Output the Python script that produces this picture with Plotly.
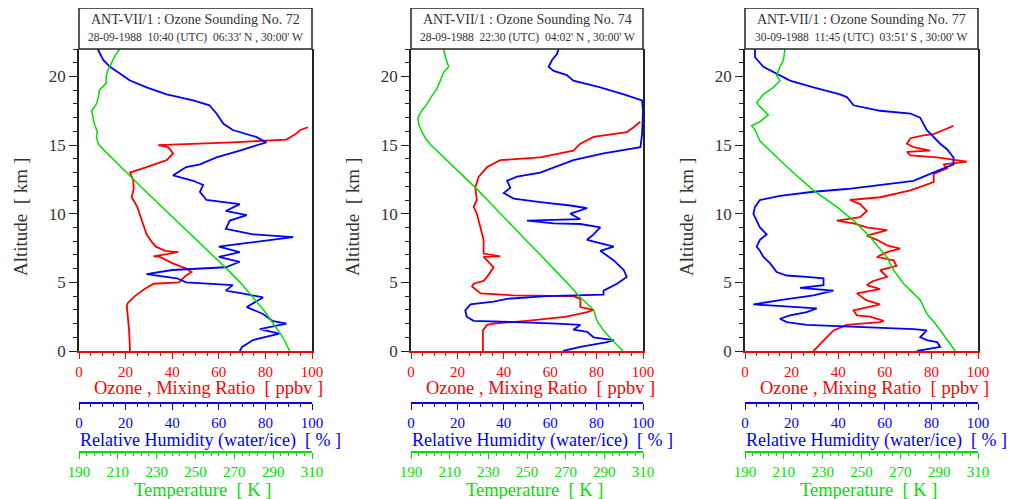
import plotly.graph_objects as go

# ---------------- data ----------------
titles_line1 = ["ANT-VII/1 : Ozone Sounding No. 72",
                "ANT-VII/1 : Ozone Sounding No. 74",
                "ANT-VII/1 : Ozone Sounding No. 77"]
titles_line2 = ["28-09-1988  10:40 (UTC)  06:33' N , 30:00' W",
                "28-09-1988  22:30 (UTC)  04:02' N , 30:00' W",
                "30-09-1988  11:45 (UTC)  03:51' S , 30:00' W"]

# Sounding 72
o3_72_alt = [0, 1.5, 3.3, 3.5, 4.0, 4.5, 4.9, 5.0, 5.2, 5.5, 5.75, 6.0, 6.4, 6.85, 6.9, 7.2, 7.3, 7.6, 8.0, 8.5, 9.0, 9.5, 10.0, 10.5, 11.2, 11.8, 12.4, 13.0, 13.4, 13.9, 14.4, 14.85, 15.0, 15.2, 15.4, 15.8, 16.1, 16.3]
o3_72_val = [21.9, 21.5, 20.5, 21, 24, 28, 32, 43, 44, 46, 48.3, 46, 40, 34.7, 32, 42.6, 37, 33, 31, 29, 28, 27, 26, 25, 22.6, 23.5, 23.3, 21.9, 29, 37.6, 40.4, 38.3, 34, 66, 89, 93, 95, 98.3]
rh_72_alt = [0, 0.3, 0.8, 1.0, 1.26, 1.6, 2.0, 2.2, 2.7, 3.2, 3.9, 4.2, 4.4, 4.8, 4.9, 5.0, 5.3, 5.6, 5.9, 6.1, 6.5, 6.85, 7.2, 7.6, 7.8, 8.3, 8.5, 8.9, 9.5, 9.9, 10.2, 10.7, 11.0, 11.6, 12.1, 12.4, 12.8, 13.4, 13.6, 14.1, 14.6, 15.2, 15.6, 16.1, 16.55, 17.3, 17.9, 18.25, 18.7, 19.2, 19.7, 20.2, 20.7, 21.2, 21.9, 22]
rh_72_val = [69, 70, 74.7, 80, 86, 77.6, 89, 83, 79, 72, 79, 70, 63, 66, 57.6, 46, 42, 29, 40, 63, 69, 60, 69, 60, 69, 91.9, 74.7, 63, 64.7, 72, 63, 69, 54.7, 51.9, 53.3, 49, 40.4, 46, 51.9, 59, 69, 80.4, 76, 66, 62, 59, 56, 49, 37.6, 29, 21.9, 17.6, 13.3, 10.4, 8.3, 8]
t_72_alt = [0, 1, 2, 3, 4, 5, 6, 7, 8, 9, 10, 11, 12, 13, 14, 15, 15.5, 16, 16.5, 17, 17.5, 18, 18.5, 19, 19.5, 20, 20.5, 21, 21.5, 22]
t_72_val = [298.5, 295, 290, 285, 279, 273, 266, 258.5, 251, 244, 236.5, 229, 221.6, 214.4, 207.2, 200.3, 199, 199.4, 198, 197.4, 196.5, 199, 200, 200.5, 204, 204, 205, 206.8, 208.5, 211]

# Sounding 74
o3_74_alt = [0, 1.5, 1.9, 2.0, 2.2, 2.5, 2.84, 3.0, 3.2, 3.8, 4.0, 4.05, 4.2, 4.7, 4.9, 5.1, 5.4, 6.1, 6.6, 6.85, 6.9, 7.1, 8.1, 9.0, 10.0, 10.5, 11.0, 11.9, 12.7, 13.4, 13.9, 14.1, 14.6, 15.1, 15.6, 15.95, 16.3, 16.7]
o3_74_val = [31, 31, 32.8, 35.6, 50, 67, 75.9, 78.7, 73, 73, 70, 44, 30, 26.3, 27, 31.3, 32.8, 35.6, 32.8, 31.3, 38.5, 31.3, 31.3, 29.9, 28.4, 27, 28.4, 27.7, 29.2, 32.8, 38.5, 55.7, 70, 73, 78.7, 93, 96, 98.8]
rh_74_alt = [0, 0.3, 0.65, 0.8, 1.0, 1.4, 1.55, 1.9, 2.0, 2.15, 2.2, 2.5, 2.96, 3.4, 3.6, 3.8, 4.0, 4.1, 4.4, 4.9, 5.4, 5.9, 6.6, 7.3, 7.6, 8.1, 8.5, 9.0, 9.25, 9.3, 9.5, 9.6, 10.0, 10.4, 10.6, 10.85, 11.1, 11.5, 11.9, 12.4, 12.7, 13.0, 13.9, 14.4, 14.85, 15.8, 17.5, 18.25, 18.7, 19.2, 19.7, 20.1, 20.4, 20.7, 21.2, 21.65, 22]
rh_74_val = [65.5, 73, 84.5, 87.4, 78.7, 75.9, 70, 73, 63, 41.4, 27, 24, 23.4, 25.6, 35.6, 41.4, 58.6, 83, 83, 88.8, 93, 91.7, 87.4, 81.6, 87.4, 75.9, 78.7, 81.6, 73, 61.5, 50, 73, 68.7, 75.9, 68.7, 55.7, 44.3, 40, 42.8, 41.4, 45.7, 55.7, 70, 83, 98.9, 99.6, 100, 99.6, 91.7, 81.6, 70, 67.2, 61.5, 59.3, 60.8, 63, 63.6]
t_74_alt = [0, 0.8, 1.5, 2.2, 3.0, 3.9, 5, 6, 7, 8, 9, 10, 11, 11.9, 13, 14, 15, 15.5, 16, 16.5, 17, 17.5, 18, 18.6, 19.1, 19.7, 20.3, 20.7, 21.4, 22]
t_74_val = [299.7, 294, 289.6, 286.2, 284.5, 277.6, 270.5, 264, 257, 250, 243, 236, 229.5, 223.3, 215.3, 208, 200.3, 197.5, 195.5, 194, 193.6, 195.5, 198.3, 200.9, 203.4, 205.2, 206.9, 209.5, 207.8, 206.9]

# Sounding 77
o3_77_alt = [0, 0.5, 1.0, 1.5, 1.9, 2.1, 2.2, 2.5, 2.6, 2.96, 3.4, 3.7, 4.2, 4.5, 4.8, 5.1, 5.4, 5.9, 6.2, 6.6, 6.85, 7.2, 7.45, 7.7, 8.1, 8.4, 8.8, 9.0, 9.3, 9.5, 9.75, 10.2, 10.7, 11.0, 11.2, 11.7, 12.3, 12.9, 13.3, 13.6, 13.8, 14.0, 14.1, 14.25, 14.5, 14.6, 14.85, 15.1, 15.5, 15.7, 15.8, 16.1, 16.4]
o3_77_val = [29.4, 32.2, 35.1, 38, 43.7, 58, 59.5, 53.7, 48, 46.6, 58, 52, 48, 58, 52.3, 55, 61, 58, 65, 63.8, 56.6, 61, 66.6, 61, 56.6, 52.3, 61, 52.3, 46.6, 39.4, 49.4, 52.3, 49.4, 45, 58, 71, 81, 81, 86.7, 85.2, 95.3, 88, 82.4, 71, 69.5, 79.5, 72.3, 69.5, 71, 76.6, 81, 85.2, 89.5]
rh_77_alt = [0, 0.3, 0.65, 0.8, 1.0, 1.5, 1.6, 1.75, 1.9, 2.1, 2.35, 2.6, 2.84, 3.1, 3.25, 3.4, 3.7, 4.05, 4.4, 4.5, 4.6, 4.8, 5.3, 5.4, 5.5, 5.75, 6.4, 6.85, 7.3, 7.6, 8.1, 8.5, 9.0, 9.5, 10.0, 10.5, 11.0, 11.3, 11.6, 11.8, 12.1, 12.4, 12.9, 13.3, 13.6, 14.1, 14.7, 15.1, 15.6, 16.1, 16.55, 17.0, 17.3, 17.5, 17.9, 18.5, 18.7, 19.2, 19.7, 20.2, 20.7, 21.4, 22]
rh_77_val = [73.8, 83.8, 82.4, 78, 75.2, 78, 72.3, 52.3, 26.5, 17.9, 15, 19.3, 26.5, 30.8, 15, 3.6, 15, 29.4, 38, 32.2, 23.6, 33.7, 33.7, 26.5, 17.9, 13.6, 10.7, 7.9, 6.4, 5, 6.4, 9.3, 6.4, 5, 3.6, 4.3, 6.4, 15, 29.4, 43.7, 58, 72.3, 79.5, 85.2, 89.5, 89.5, 86.7, 83.8, 81, 78, 76.6, 75.2, 71, 58, 46.6, 43.7, 40.8, 29.4, 19.3, 13.6, 7.9, 4.3, 4.3]
t_77_alt = [0, 0.8, 1.5, 2.0, 2.7, 3.7, 4.2, 4.9, 5.9, 6.85, 8.3, 9.5, 10.5, 11.7, 13.2, 14.4, 15.3, 16.1, 16.4, 16.7, 17.2, 17.8, 18.1, 18.7, 19.2, 19.7, 20.1, 20.7, 21.2, 22]
t_77_val = [298.3, 294, 290.6, 288, 283.7, 280.3, 276.8, 271.7, 266.5, 263, 254.5, 245.9, 237.3, 225.2, 213.2, 204.6, 197.7, 195.2, 193.4, 197.7, 202, 197.7, 196, 199.5, 204.6, 208, 206.3, 208, 209.8, 210.6]

soundings = [
    (o3_72_alt, o3_72_val, rh_72_alt, rh_72_val, t_72_alt, t_72_val),
    (o3_74_alt, o3_74_val, rh_74_alt, rh_74_val, t_74_alt, t_74_val),
    (o3_77_alt, o3_77_val, rh_77_alt, rh_77_val, t_77_alt, t_77_val),
]

o3_ticks = [0, 20, 40, 60, 80, 100]
rh_ticks = [0, 20, 40, 60, 80, 100]
t_ticks = [190, 210, 230, 250, 270, 290, 310]
alt_ticks = [0, 5, 10, 15, 20]

o3_title = "Ozone , Mixing Ratio  [ ppbv ]"
rh_title = "Relative Humidity (water/ice)  [ % ]"
t_title = "Temperature  [ K ]"
alt_title = "Altitude  [ km ]"

# ---------------- layout geometry ----------------
# the page body adds an 8 px margin, so the figure is 8 px smaller and
# all target pixel positions are shifted by that offset
OFF = 8
W, H = 1015 - OFF, 499 - OFF
RED, BLUE, GREEN = "#ff0000", "#0000ff", "#00e000"
FONT = "Liberation Serif, Times New Roman, serif"

panel_px = [(79, 312), (411, 643), (745, 978)]
plot_top_px, plot_bot_px = 49, 351
box_top_px = 8
blue_axis_px, green_axis_px = 403, 452


def py(p):
    return 1 - (p - OFF) / H


def px(p):
    return (p - OFF) / W


fig = go.Figure()
layout = dict(
    width=W, height=H,
    margin=dict(l=0, r=0, t=0, b=0, autoexpand=False),
    paper_bgcolor="white", plot_bgcolor="white",
    showlegend=False,
    font=dict(family=FONT, size=14, color="#222"),
)
annotations = []
shapes = []

for k, (oa, ov, ra, rv, ta, tv) in enumerate(soundings):
    xr, xb, xg = 3 * k + 1, 3 * k + 2, 3 * k + 3
    yk = k + 1
    x0, x1 = panel_px[k]
    dom = [px(x0), px(x1)]
    ysuf = "" if yk == 1 else str(yk)

    def xs(n):
        return "x" if n == 1 else "x%d" % n

    fig.add_trace(go.Scatter(x=ov, y=oa, mode="lines", line=dict(color=RED, width=1.8),
                             xaxis=xs(xr), yaxis="y" + ysuf, hoverinfo="skip"))
    fig.add_trace(go.Scatter(x=rv, y=ra, mode="lines", line=dict(color=BLUE, width=1.8),
                             xaxis=xs(xb), yaxis="y" + ysuf, hoverinfo="skip"))
    fig.add_trace(go.Scatter(x=tv, y=ta, mode="lines", line=dict(color=GREEN, width=1.5),
                             xaxis=xs(xg), yaxis="y" + ysuf, hoverinfo="skip"))

    common = dict(domain=dom, showgrid=False, zeroline=False, ticks="outside",
                  ticklen=6, tickwidth=1.2, showline=True, linewidth=1.5,
                  fixedrange=True, automargin=False)
    layout["xaxis" + ("" if xr == 1 else str(xr))] = dict(
        common, range=[0, 100], tickvals=o3_ticks, anchor="y" + ysuf,
        linecolor=RED, tickcolor=RED, tickfont=dict(color=RED, size=15, family=FONT),
        minor=dict(dtick=5, tick0=0, ticks="outside", ticklen=3.5, tickcolor=RED, tickwidth=1.2),
    )
    layout["xaxis%d" % xb] = dict(
        common, range=[0, 100], tickvals=rh_ticks, anchor="free", overlaying=xs(xr),
        position=py(blue_axis_px), side="bottom",
        linecolor=BLUE, tickcolor=BLUE, tickfont=dict(color=BLUE, size=15, family=FONT),
        minor=dict(dtick=5, tick0=0, ticks="outside", ticklen=3.5, tickcolor=BLUE, tickwidth=1.2),
    )
    layout["xaxis%d" % xg] = dict(
        common, range=[190, 310], tickvals=t_ticks, anchor="free", overlaying=xs(xr),
        position=py(green_axis_px), side="bottom",
        linecolor=GREEN, tickcolor=GREEN, tickfont=dict(color=GREEN, size=15, family=FONT),
        minor=dict(dtick=4, tick0=190, ticks="outside", ticklen=3.5, tickcolor=GREEN, tickwidth=1.2),
    )
    layout["yaxis" + ysuf] = dict(
        domain=[py(plot_bot_px), py(plot_top_px)], range=[0, 22], anchor=xs(xr),
        tickvals=alt_ticks, showgrid=False, zeroline=False, ticks="outside",
        ticklen=8, tickwidth=1.3, tickcolor="#222", showline=True, linecolor="#222",
        linewidth=1.5, mirror=True, fixedrange=True, automargin=False,
        tickfont=dict(size=17, family=FONT, color="#333"),
        minor=dict(dtick=1, tick0=0, ticks="outside", ticklen=4, tickcolor="#222", tickwidth=1.2),
    )

    cx = (x0 + x1) / 2
    # title box
    shapes.append(dict(type="rect", xref="paper", yref="paper",
                       x0=px(x0), x1=px(x1), y0=py(plot_top_px), y1=py(box_top_px),
                       line=dict(color="#222", width=1.5), fillcolor="rgba(0,0,0,0)"))

    def ann(text, x, y, size, color, **kw):
        d = dict(text=text, x=px(x), y=py(y), xref="paper", yref="paper",
                 showarrow=False, xanchor="center", yanchor="middle",
                 font=dict(size=size, family=FONT, color=color))
        d.update(kw)
        annotations.append(d)

    ann(titles_line1[k], cx, 20, 14, "#333")
    ann(titles_line2[k], cx, 37, 11.5, "#333")
    ann(o3_title, cx + 13, 388, 18.5, RED)
    ann(rh_title, cx + 15, 440, 18, BLUE)
    ann(t_title, cx + 7, 490, 18.5, GREEN)
    ann(alt_title, x0 - 59, 217, 19, "#333", textangle=-90)

layout["annotations"] = annotations
layout["shapes"] = shapes
fig.update_layout(**layout)
fig.write_html("out.html")
